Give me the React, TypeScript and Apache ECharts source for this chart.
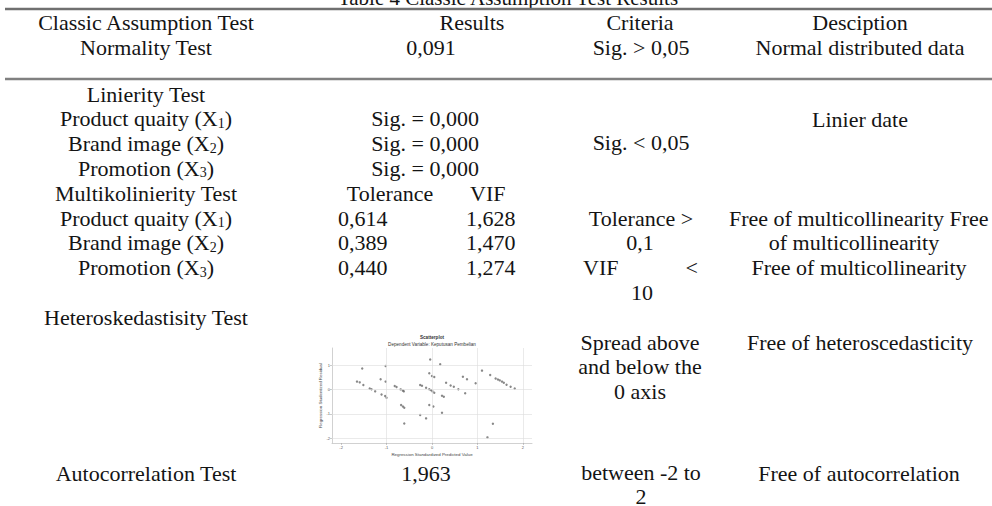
import React, { useEffect, useRef } from "react";
import * as echarts from "echarts";

// ---------- table texts ----------
const TITLE = "Table 4 Classic Assumption Test Results";
const HEADERS = ["Classic Assumption Test", "Results", "Criteria", "Desciption"];
const NORMALITY = ["Normality Test", "0,091", "Sig. > 0,05", "Normal distributed data"];

const VARIABLES = ["Product quaity (X{sub|1})", "Brand image (X{sub|2})", "Promotion (X{sub|3})"];

const LINEARITY_NAME = "Linierity Test";
const LINEARITY_SIG = ["Sig. = 0,000", "Sig. = 0,000", "Sig. = 0,000"];
const LINEARITY_CRITERIA = "Sig. < 0,05";
const LINEARITY_DESC = "Linier date";

const MULTI_NAME = "Multikolinierity Test";
const MULTI_HEAD = ["Tolerance", "VIF"];
const TOLERANCE = ["0,614", "0,389", "0,440"];
const VIF = ["1,628", "1,470", "1,274"];
const MULTI_CRITERIA = ["Tolerance >", "0,1", "VIF", "<", "10"];
const MULTI_DESC = ["Free of multicollinearity Free", "of multicollinearity", "Free of multicollinearity"];

const HETERO_NAME = "Heteroskedastisity Test";
const HETERO_CRITERIA = ["Spread above", "and below the", "0 axis"];
const HETERO_DESC = "Free of heteroscedasticity";

const AUTO = ["Autocorrelation Test", "1,963", "between -2 to\n2", "Free of autocorrelation"];

// ---------- scatterplot ----------
const SCATTER_TITLE = "Scatterplot";
const SCATTER_SUBTITLE = "Dependent Variable: Keputusan Pembelian";
const X_NAME = "Regression Standardized Predicted Value";
const Y_NAME = "Regression Studentized Residual";
const X_TICKS = [-2, -1, 0, 1, 2];
const Y_TICKS = [-2, -1, 0, 1];
const X_GRID = [-1, 0, 1, 2];
const Y_GRID = [-2, -1, 0, 1];

const PREDICTED = [
  -1.535, -1.02, -1.65, -1.59, -1.51, -1.37, -1.33, -1.25, -1.13, -1.02,
  -1.11, -1.03, -1.0, -0.82, -0.78, -0.69, -0.64, -0.62, -0.68, -0.64,
  -0.61, -0.61, -0.26, -0.22, -0.13, -0.06, -0.02, 0.01, 0.05, -0.06,
  0.0, 0.05, -0.04, 0.18, 0.22, 0.26, -0.06, 0.03, -0.26, -0.13,
  0.22, 0.31, 0.41, 0.48, 0.58, 0.68, 0.77, 0.73, 0.96, 1.1,
  1.28, 1.4, 1.45, 1.49, 1.54, 1.58, 1.64, 1.73, 1.82, 1.34, 1.22,
];
const RESIDUAL = [
  0.86, 0.96, 0.32, 0.29, 0.18, 0.04, 0.01, -0.08, 0.42, 0.32,
  -0.21, -0.27, -0.34, 0.14, 0.1, 0.0, -0.05, -0.08, -0.64, -0.7,
  -0.75, -1.4, 0.18, 0.15, 0.07, 0.01, -0.03, -0.08, -0.14, 0.66,
  0.55, 0.51, 1.23, 1.03, -0.26, -0.3, -0.64, -0.7, -1.05, -1.19,
  -0.96, 0.27, 0.16, 0.11, 0.01, 0.52, 0.42, -0.16, 0.25, 0.77,
  0.59, 0.45, 0.41, 0.37, 0.32, 0.27, 0.19, 0.11, 0.04, -1.41, -1.97,
];

const SERIF = "'Liberation Serif', 'Times New Roman', serif";
const SANS = "'Liberation Sans', Arial, sans-serif";
const INK = "#141414";

export default function App() {
  const ref = useRef<HTMLDivElement>(null);

  useEffect(() => {
    document.body.style.margin = "0";
    const el = ref.current;
    if (!el) return;
    const chart = echarts.init(el, null, { renderer: "svg", width: 992, height: 506 });

    const FS = 22;
    const txt = (text: string, x: number, y: number, align = "center", size = FS, extra: any = {}) => ({
      type: "text",
      x,
      y,
      silent: true,
      style: {
        text,
        fontSize: size,
        fontFamily: SERIF,
        fill: INK,
        textAlign: align,
        textVerticalAlign: "middle",
        rich: {
          sub: { fontSize: 14, fontFamily: SERIF, fill: INK, padding: [9, 0, 0, 0] },
        },
        ...extra,
      },
    });
    const sans = (text: string, x: number, y: number, size: number, extra: any = {}) => ({
      type: "text",
      x,
      y,
      silent: true,
      style: { text, fontSize: size, fontFamily: SANS, fill: "#333", textAlign: "center", textVerticalAlign: "middle", ...extra },
    });

    const C1 = 146;
    const C3 = 640;
    const C4 = 860;
    const row = (i: number) => 94 + i * 24.8;

    const g: any[] = [];
    g.push(txt(TITLE, 508, -2, "center", 21));
    g.push({ type: "line", shape: { x1: 5, y1: 9, x2: 992, y2: 9 }, style: { stroke: "#707070", lineWidth: 2.4 } });
    g.push({ type: "line", shape: { x1: 5, y1: 79, x2: 992, y2: 79 }, style: { stroke: "#808080", lineWidth: 2.6 } });

    g.push(txt(HEADERS[0], C1, 22));
    g.push(txt(HEADERS[1], 472, 22));
    g.push(txt(HEADERS[2], C3, 22));
    g.push(txt(HEADERS[3], C4, 22));

    g.push(txt(NORMALITY[0], C1, 47));
    g.push(txt(NORMALITY[1], 431, 47));
    g.push(txt(NORMALITY[2], 641, 47));
    g.push(txt(NORMALITY[3], C4, 47));

    // linearity
    g.push(txt(LINEARITY_NAME, C1, row(0)));
    VARIABLES.forEach((v, i) => {
      g.push(txt(v, C1, row(1 + i)));
      g.push(txt(LINEARITY_SIG[i], 425, row(1 + i)));
    });
    g.push(txt(LINEARITY_CRITERIA, 641, row(2) - 1));
    g.push(txt(LINEARITY_DESC, C4, row(1) + 1));

    // multicollinearity
    g.push(txt(MULTI_NAME, C1, row(4)));
    g.push(txt(MULTI_HEAD[0], 390, row(4)));
    g.push(txt(MULTI_HEAD[1], 470, row(4), "left"));
    VARIABLES.forEach((v, i) => {
      g.push(txt(v, C1, row(5 + i)));
      g.push(txt(TOLERANCE[i], 338, row(5 + i), "left"));
      g.push(txt(VIF[i], 466, row(5 + i), "left"));
    });
    g.push(txt(MULTI_CRITERIA[0], 641, row(5)));
    g.push(txt(MULTI_CRITERIA[1], 640, row(6)));
    g.push(txt(MULTI_CRITERIA[2], 583, row(7), "left"));
    g.push(txt(MULTI_CRITERIA[3], 698, row(7), "right"));
    g.push(txt(MULTI_CRITERIA[4], 642, row(8)));
    g.push(txt(MULTI_DESC[0], 729, row(5), "left"));
    g.push(txt(MULTI_DESC[1], 854, row(6)));
    g.push(txt(MULTI_DESC[2], 859, row(7)));

    // heteroscedasticity
    g.push(txt(HETERO_NAME, C1, row(9)));
    HETERO_CRITERIA.forEach((t, i) => g.push(txt(t, C3, row(10 + i))));
    g.push(txt(HETERO_DESC, C4, row(10)));

    // scatter captions
    g.push(sans(SCATTER_TITLE, 432, 337, 4.6, { fontWeight: "bold" }));
    g.push(sans(SCATTER_SUBTITLE, 432, 344, 4.6));

    // autocorrelation
    g.push(txt(AUTO[0], C1, 473));
    g.push(txt(AUTO[1], 426, 473));
    g.push(txt(AUTO[2], 641, 484, "center", FS, { lineHeight: 24 }));
    g.push(txt(AUTO[3], 859, 473));

    const points = PREDICTED.map((x, i) => [x, RESIDUAL[i]]);

    const option: any = {
      animation: false,
      backgroundColor: "#ffffff",
      grid: { left: 332, top: 348, width: 200, height: 95, containLabel: false },
      xAxis: {
        type: "value",
        min: -2.2,
        max: 2.2,
        axisLine: { show: true, onZero: false, lineStyle: { color: "#bdbdbd", width: 0.7 } },
        axisTick: { show: true, length: 2, customValues: X_TICKS, lineStyle: { color: "#999", width: 0.5 } },
        axisLabel: { customValues: X_TICKS, fontSize: 4, color: "#555", margin: 2, fontFamily: SANS },
        splitLine: { show: false },
        name: X_NAME,
        nameLocation: "middle",
        nameGap: 9,
        nameTextStyle: { fontSize: 4.4, color: "#444", fontFamily: SANS },
      },
      yAxis: {
        type: "value",
        min: -2.2,
        max: 1.7,
        axisLine: { show: true, onZero: false, lineStyle: { color: "#bdbdbd", width: 0.7 } },
        axisTick: { show: true, length: 2, customValues: Y_TICKS, lineStyle: { color: "#999", width: 0.5 } },
        axisLabel: { customValues: Y_TICKS, fontSize: 4, color: "#555", margin: 2, fontFamily: SANS },
        splitLine: { show: false },
        name: Y_NAME,
        nameLocation: "middle",
        nameGap: 8,
        nameTextStyle: { fontSize: 4.4, color: "#444", fontFamily: SANS },
      },
      series: [
        {
          type: "scatter",
          data: points,
          symbol: "circle",
          symbolSize: 2.4,
          itemStyle: { color: "#6a6a6a" },
          silent: true,
          markLine: {
            silent: true,
            symbol: "none",
            animation: false,
            label: { show: false },
            lineStyle: { color: "#dcdcdc", width: 0.6, type: "solid" },
            data: [
              ...X_GRID.map((v) => ({ xAxis: v })),
              ...Y_GRID.map((v) => ({ yAxis: v })),
            ],
          },
        },
      ],
      graphic: { elements: g },
    };

    chart.setOption(option);
    return () => chart.dispose();
  }, []);

  return <div ref={ref} style={{ width: 992, height: 506, background: "#fff" }} />;
}
